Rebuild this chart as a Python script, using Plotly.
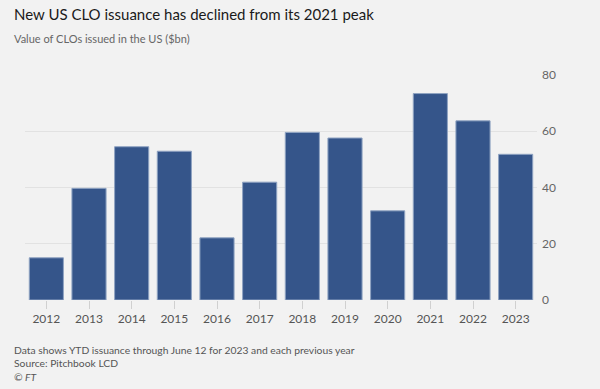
import plotly.graph_objects as go

years = ["2012", "2013", "2014", "2015", "2016", "2017", "2018", "2019", "2020", "2021", "2022", "2023"]
issuance = [15.0, 39.7, 54.5, 52.9, 22.1, 41.9, 59.6, 57.6, 31.7, 73.4, 63.7, 51.8]
y_ticks = [0, 20, 40, 60, 80]

FONT = "Lato, 'Open Sans', sans-serif"

fig = go.Figure(go.Bar(
    x=years, y=issuance,
    marker=dict(color="#35558a", line=dict(color="#8fa3c2", width=1)),
    hoverinfo="skip",
))

fig.update_layout(
    width=600, height=389,
    paper_bgcolor="#f2f2f2", plot_bgcolor="#f2f2f2",
    margin=dict(l=25, r=63, t=75, b=89),
    bargap=0.2,
    showlegend=False,
    font=dict(family=FONT, color="#555555", size=12),
    xaxis=dict(
        showgrid=False, ticks="outside", ticklen=8, tickcolor="#d0d0d0",
        tickfont=dict(size=12, color="#555555"), showline=False,
        fixedrange=True,
    ),
    yaxis=dict(
        side="right", range=[0, 80], tickvals=y_ticks,
        showgrid=True, gridcolor="#e2e2e2", gridwidth=1,
        zeroline=False, showline=False,
        tickfont=dict(size=12, color="#666666"),
        ticklabelstandoff=4, fixedrange=True,
    ),
)

annotations = [
    dict(text="New US CLO issuance has declined from its 2021 peak", x=12, y=14, size=15, color="#1a1a1a"),
    dict(text="Value of CLOs issued in the US ($bn)", x=12, y=38, size=11, color="#666666"),
    dict(text="Data shows YTD issuance through June 12 for 2023 and each previous year", x=12, y=350, size=10.3, color="#555555"),
    dict(text="Source: Pitchbook LCD", x=12, y=363, size=10.3, color="#555555"),
    dict(text="<i>© FT</i>", x=12, y=377, size=10.3, color="#555555"),
]
for a in annotations:
    fig.add_annotation(
        text=a["text"], xref="paper", yref="paper",
        x=(a["x"] - 25) / 512, y=1 - (a["y"] - 75) / 225,
        xanchor="left", yanchor="middle", showarrow=False,
        font=dict(size=a["size"], color=a["color"], family=FONT),
    )

fig.write_html(
    "out.html",
    config={"displayModeBar": False},
    post_script="document.body.style.margin='0';document.body.style.background='#f2f2f2';",
)
